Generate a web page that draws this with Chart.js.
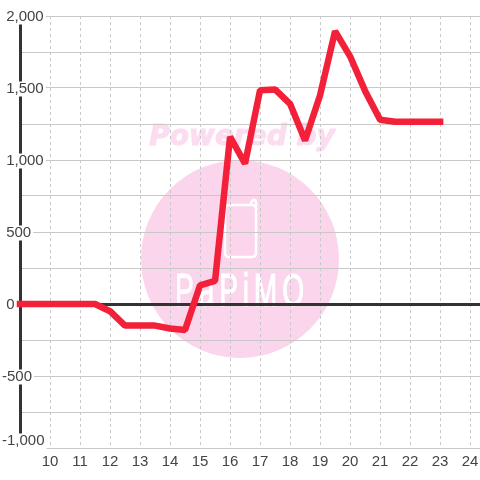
<!DOCTYPE html>
<html>
<head>
<meta charset="utf-8">
<script src="https://cdn.jsdelivr.net/npm/chart.js@4"></script>
<style>
  html, body { margin: 0; padding: 0; background: #fff; }
  #wrap { width: 480px; height: 480px; }
</style>
</head>
<body>
<div id="wrap"><canvas id="chart" width="480" height="480"></canvas></div>
<script>
const hours = [9, 9.5, 10, 10.5, 11, 11.5, 12, 12.5, 13, 13.5, 14, 14.5, 15, 15.5, 16, 16.5, 17, 17.5, 18, 18.5, 19, 19.5, 20, 20.5, 21, 21.5, 22, 22.5, 23];
const values = [0, 0, 0, 0, 0, 0, -50, -150, -150, -150, -170, -180, 130, 160, 1160, 975, 1485, 1490, 1390, 1135, 1450, 1895, 1720, 1480, 1280, 1265, 1265, 1265, 1265];
const yLabels = { '2000': '2,000', '1500': '1,500', '1000': '1,000', '500': '500', '0': '0', '-500': '-500' };
const bottomLabel = '-1,000';

const textColor = '#444';
const gridColor = '#c8c8c8';
const axisColor = '#333';
const labelFont = { family: '"Liberation Sans"', size: 15, lineHeight: 1 };

// pink logo behind the grid
const watermark = {
  id: 'watermark',
  beforeDraw(chart) {
    const ctx = chart.ctx;
    ctx.save();
    ctx.fillStyle = '#fbd5ec';
    ctx.beginPath();
    ctx.arc(240, 259, 99, 0, Math.PI * 2);
    ctx.fill();

    ctx.fillStyle = '#fcdcf0';
    ctx.strokeStyle = '#fcdcf0';
    ctx.lineWidth = 1;
    ctx.font = 'italic bold 28px "DejaVu Sans"';
    ctx.textAlign = 'center';
    ctx.textBaseline = 'alphabetic';
    ctx.fillText('Powered by', 242, 145);
    ctx.strokeText('Powered by', 242, 145);

    // phone
    ctx.strokeStyle = '#fff';
    ctx.lineWidth = 2.5;
    ctx.lineJoin = 'round';
    ctx.beginPath();
    ctx.roundRect(225, 205, 31, 52, 4);
    ctx.stroke();
    ctx.beginPath();
    ctx.moveTo(251, 205);
    ctx.lineTo(251, 203);
    ctx.quadraticCurveTo(252, 200, 254, 200);
    ctx.quadraticCurveTo(256, 200, 256, 203);
    ctx.lineTo(256, 210);
    ctx.stroke();

    ctx.fillStyle = '#fff';
    ctx.strokeStyle = '#fff';
    ctx.lineWidth = 1;
    ctx.translate(242, 306);
    ctx.scale(0.6, 1);
    ctx.font = '47px "Liberation Sans"';
    ctx.letterSpacing = '8px';
    ctx.textAlign = 'center';
    ctx.fillText('PaPiMO', 0, 0);
    ctx.strokeText('PaPiMO', 0, 0);
    ctx.restore();
  }
};

new Chart(document.getElementById('chart'), {
  type: 'line',
  plugins: [watermark],
  data: {
    labels: hours,
    datasets: [{
      data: hours.map((h, i) => ({ x: h, y: values[i] })),
      borderColor: '#f22038',
      borderWidth: 6.5,
      borderCapStyle: 'square',
      borderJoinStyle: 'bevel',
      pointRadius: 0,
      tension: 0,
      clip: false,
      yAxisID: 'y'
    }]
  },
  options: {
    responsive: false,
    animation: false,
    layout: { padding: { top: 16 } },
    plugins: { legend: { display: false }, tooltip: { enabled: false } },
    scales: {
      x: {
        type: 'linear',
        min: 9,
        max: 24.33,
        afterFit(scale) {
          scale.height = 32;
          scale.paddingLeft = 0;
          scale.paddingRight = 0;
        },
        border: { display: false, dash: [3, 3] },
        grid: {
          drawTicks: false,
          color: ctx => (ctx.tick && ctx.tick.value === 9 ? 'transparent' : gridColor),
          lineWidth: 1
        },
        ticks: {
          stepSize: 1,
          includeBounds: false,
          autoSkip: false,
          maxRotation: 0,
          padding: 5,
          color: textColor,
          font: { family: '"Liberation Sans"', size: 15 },
          callback: v => (v >= 10 ? String(v) : '')
        }
      },
      y: {
        min: -1000,
        max: 2000,
        afterFit(scale) {
          scale.width = 20;
          scale.paddingTop = 0;
          scale.paddingBottom = 0;
        },
        border: { display: true, color: axisColor, width: 3 },
        grid: {
          drawTicks: false,
          color: ctx => (ctx.tick && ctx.tick.value === 0 ? axisColor : gridColor),
          lineWidth: ctx => (ctx.tick && ctx.tick.value === 0 ? 3 : 1)
        },
        ticks: {
          stepSize: 250,
          autoSkip: false,
          mirror: true,
          padding: -18,
          labelOffset: 1,
          color: textColor,
          font: labelFont,
          showLabelBackdrop: true,
          backdropColor: ctx => (yLabels[ctx.tick.value] && ctx.tick.value !== 0 ? '#fff' : 'transparent'),
          backdropPadding: { left: 0, right: 2, top: 0, bottom: 0 },
          callback: v => {
            const s = yLabels[v] || '';
            return s && v >= 0 ? ' ' + s : s;
          }
        }
      },
      // bottom label sits higher than its tick, so it gets its own zero width axis
      yBottom: {
        position: 'left',
        weight: 1,
        min: -1000,
        max: 2000,
        afterBuildTicks(scale) { scale.ticks = [{ value: -1000 }]; },
        afterFit(scale) {
          scale.width = 0;
          scale.paddingTop = 0;
          scale.paddingBottom = 0;
        },
        border: { display: false },
        grid: { display: false },
        ticks: {
          mirror: true,
          padding: 2,
          labelOffset: -7,
          color: textColor,
          font: labelFont,
          showLabelBackdrop: true,
          backdropColor: '#fff',
          backdropPadding: { left: 0, right: 2, top: 0, bottom: 1 },
          callback: () => bottomLabel
        }
      }
    }
  }
});
</script>
</body>
</html>
